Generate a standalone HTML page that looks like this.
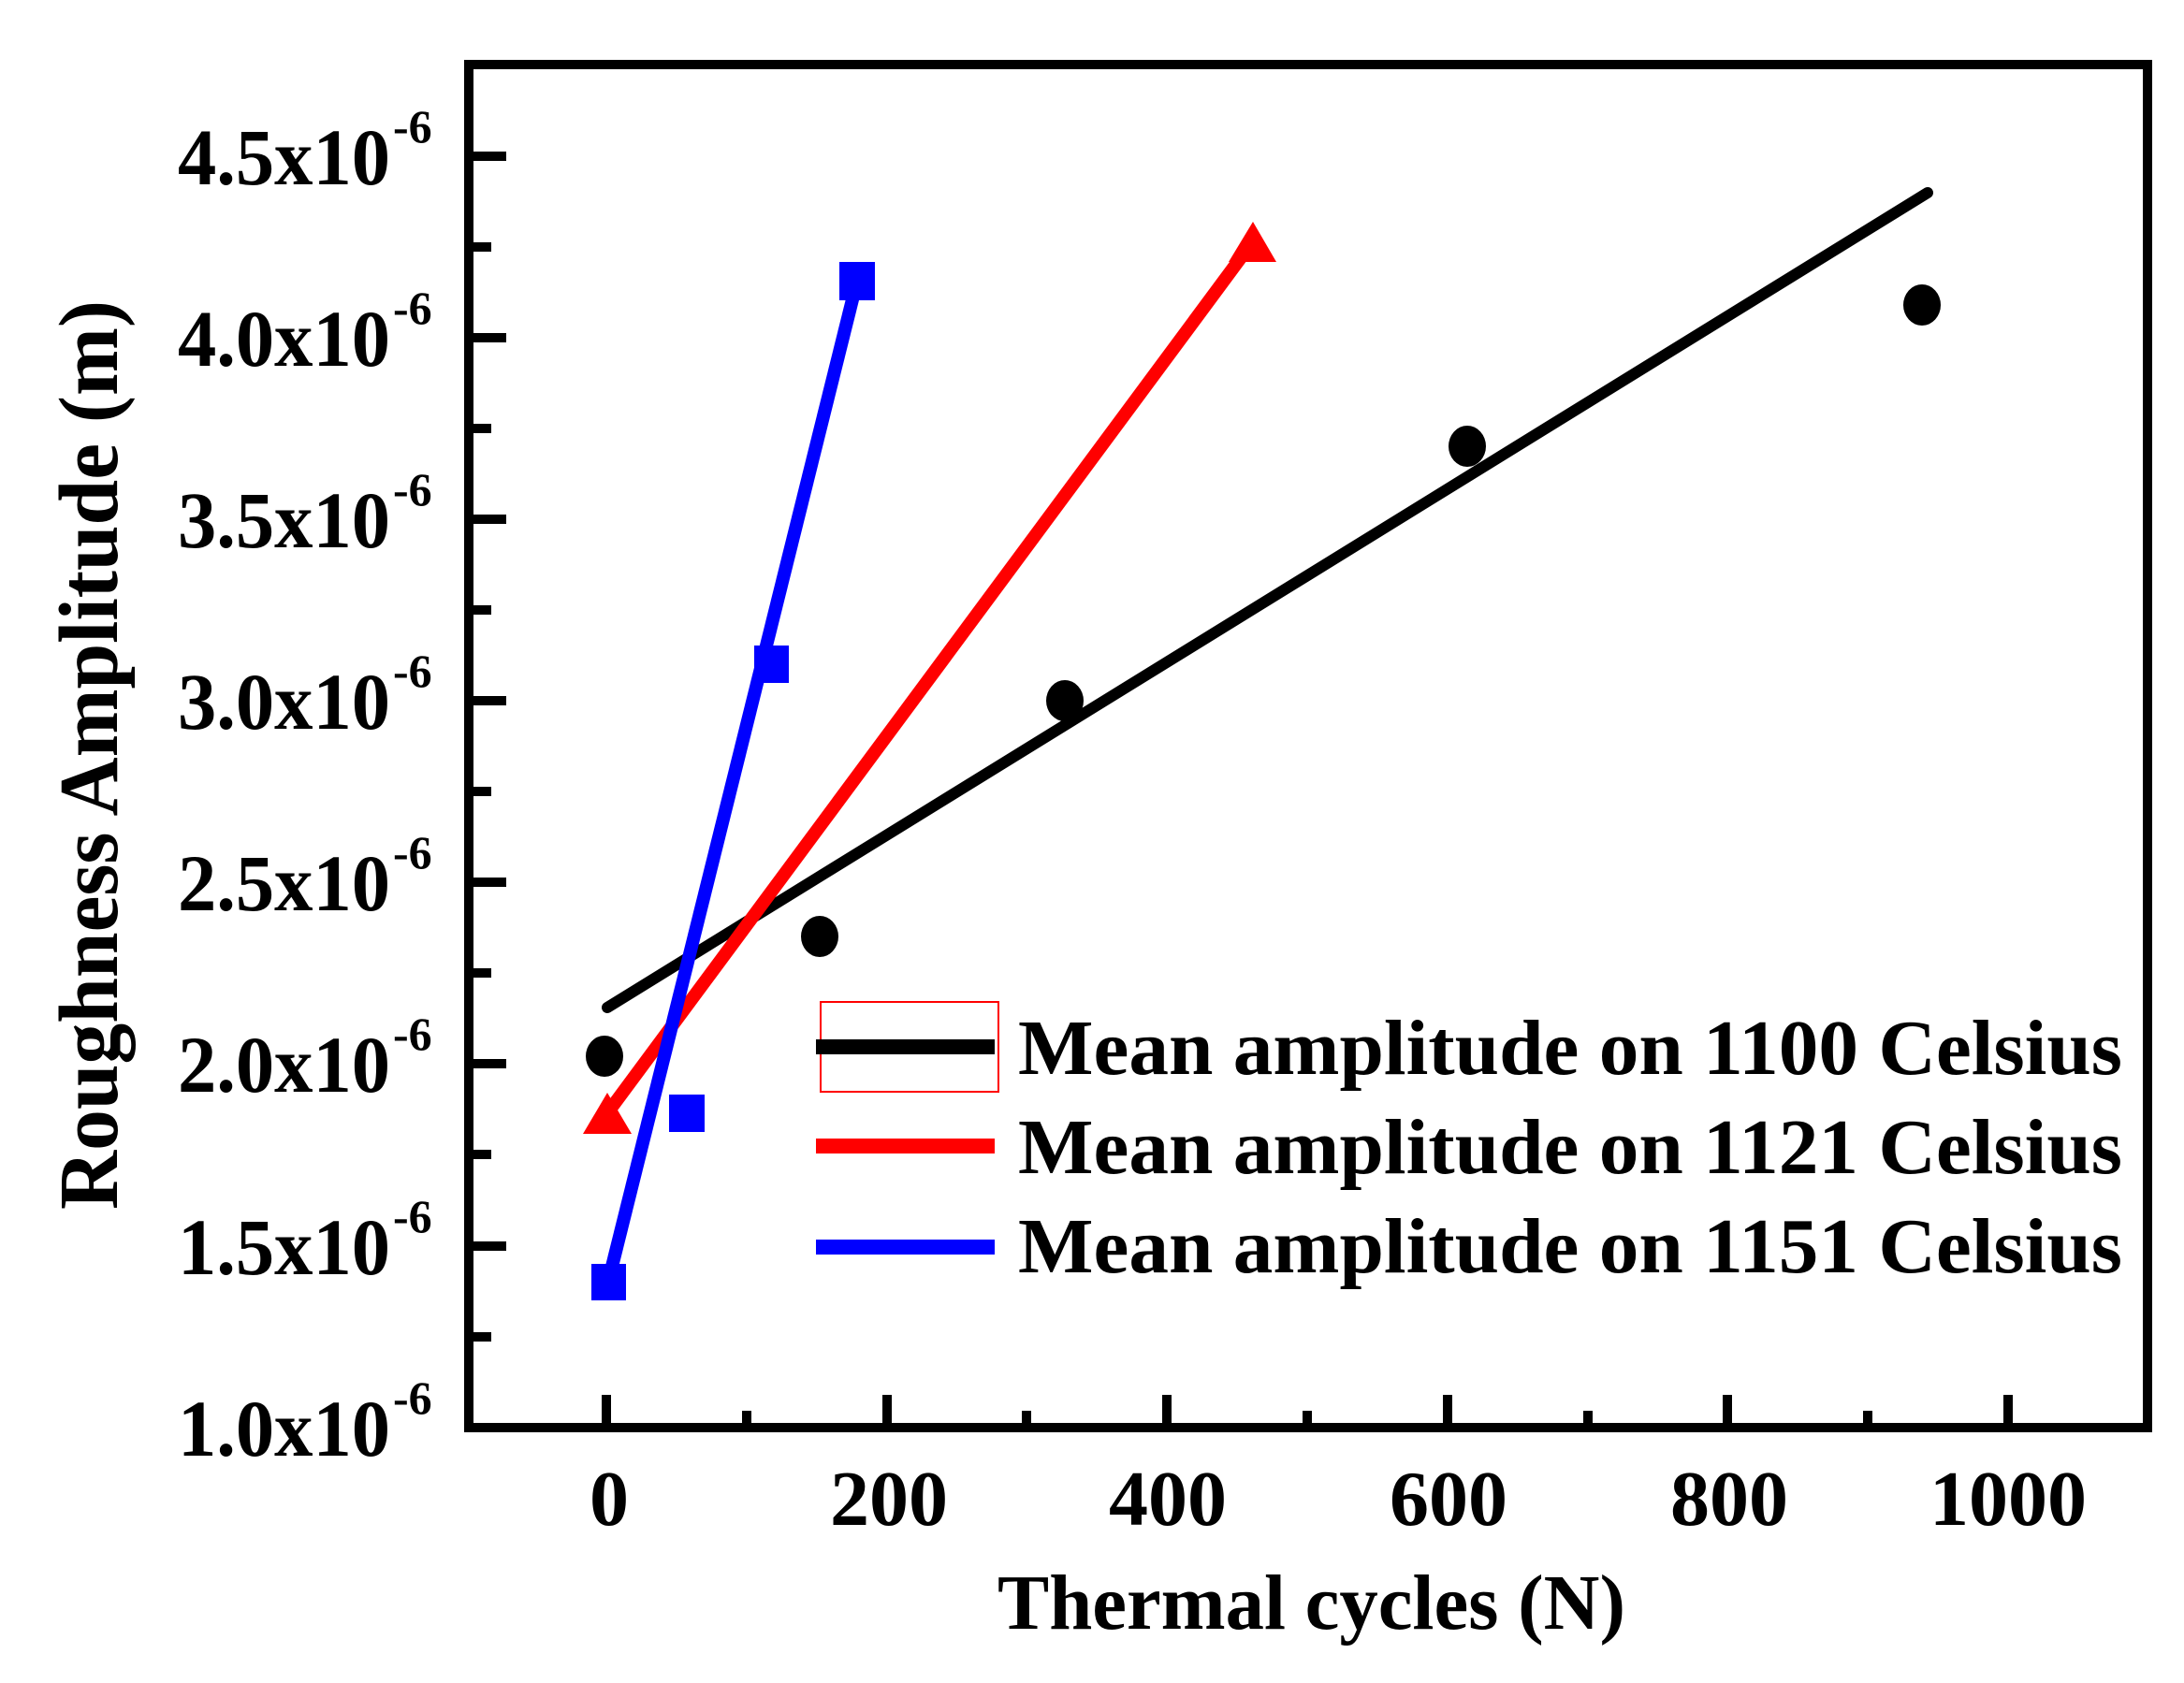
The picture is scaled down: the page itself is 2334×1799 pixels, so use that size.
<!DOCTYPE html>
<html><head><meta charset="utf-8"><style>html,body{margin:0;padding:0;background:#fff}svg{display:block}</style></head>
<body>
<svg width="2334" height="1799" viewBox="0 0 2334 1799" xmlns="http://www.w3.org/2000/svg" font-family="'Liberation Serif', serif" font-weight="bold">
<rect width="2334" height="1799" fill="#fff"/>
<rect x="501" y="69" width="1794" height="1457" fill="none" stroke="#000" stroke-width="10"/>
<g stroke="#000" stroke-width="10">
<line x1="501" y1="167" x2="541" y2="167"/><line x1="501" y1="264" x2="525" y2="264"/>
<line x1="501" y1="361" x2="541" y2="361"/><line x1="501" y1="458" x2="525" y2="458"/>
<line x1="501" y1="555" x2="541" y2="555"/><line x1="501" y1="652" x2="525" y2="652"/>
<line x1="501" y1="749" x2="541" y2="749"/><line x1="501" y1="846" x2="525" y2="846"/>
<line x1="501" y1="943" x2="541" y2="943"/><line x1="501" y1="1040" x2="525" y2="1040"/>
<line x1="501" y1="1137" x2="541" y2="1137"/><line x1="501" y1="1234" x2="525" y2="1234"/>
<line x1="501" y1="1332" x2="541" y2="1332"/><line x1="501" y1="1429" x2="525" y2="1429"/>
</g>
<g stroke="#000" stroke-width="10">
<line x1="648" y1="1526" x2="648" y2="1491"/><line x1="798" y1="1526" x2="798" y2="1508"/>
<line x1="948" y1="1526" x2="948" y2="1491"/><line x1="1097" y1="1526" x2="1097" y2="1508"/>
<line x1="1247" y1="1526" x2="1247" y2="1491"/><line x1="1397" y1="1526" x2="1397" y2="1508"/>
<line x1="1547" y1="1526" x2="1547" y2="1491"/><line x1="1697" y1="1526" x2="1697" y2="1508"/>
<line x1="1846" y1="1526" x2="1846" y2="1491"/><line x1="1996" y1="1526" x2="1996" y2="1508"/>
<line x1="2146" y1="1526" x2="2146" y2="1491"/>
</g>
<g font-size="86">
<text x="190" y="197" textLength="227" lengthAdjust="spacingAndGlyphs">4.5x10</text><text x="190" y="391" textLength="227" lengthAdjust="spacingAndGlyphs">4.0x10</text>
<text x="190" y="585" textLength="227" lengthAdjust="spacingAndGlyphs">3.5x10</text><text x="190" y="779" textLength="227" lengthAdjust="spacingAndGlyphs">3.0x10</text>
<text x="190" y="973" textLength="227" lengthAdjust="spacingAndGlyphs">2.5x10</text><text x="190" y="1167" textLength="227" lengthAdjust="spacingAndGlyphs">2.0x10</text>
<text x="190" y="1362" textLength="227" lengthAdjust="spacingAndGlyphs">1.5x10</text><text x="190" y="1556" textLength="227" lengthAdjust="spacingAndGlyphs">1.0x10</text>
</g>
<g font-size="50" text-anchor="start">
<text x="420" y="152">-6</text><text x="420" y="346">-6</text>
<text x="420" y="540">-6</text><text x="420" y="734">-6</text>
<text x="420" y="928">-6</text><text x="420" y="1122">-6</text>
<text x="420" y="1317">-6</text><text x="420" y="1511">-6</text>
</g>
<g font-size="84" text-anchor="middle">
<text x="651" y="1630">0</text><text x="950" y="1630">200</text><text x="1248" y="1630">400</text>
<text x="1548" y="1630">600</text><text x="1848" y="1630">800</text><text x="2146" y="1630">1000</text>
</g>
<text x="1066" y="1741" font-size="84" textLength="671" lengthAdjust="spacingAndGlyphs">Thermal cycles (N)</text>
<text transform="translate(125,1293) rotate(-90)" font-size="90" textLength="972" lengthAdjust="spacingAndGlyphs">Roughness Amplitude  (m)</text>
<line x1="649" y1="1077" x2="2060" y2="206" stroke="#000" stroke-width="12" stroke-linecap="round"/>
<line x1="649" y1="1190" x2="1339" y2="258" stroke="#f00" stroke-width="14"/>
<line x1="650" y1="1370" x2="916" y2="300" stroke="#00f" stroke-width="14"/>
<g fill="#000">
<ellipse cx="646" cy="1129" rx="20" ry="22"/><ellipse cx="876" cy="1001" rx="20" ry="22"/>
<ellipse cx="1138" cy="749" rx="20" ry="22"/><ellipse cx="1568" cy="477" rx="20" ry="22"/>
<ellipse cx="2054" cy="326" rx="20" ry="22"/>
</g>
<g fill="#f00">
<polygon points="649,1168 675,1212 623,1212"/><polygon points="1339,237 1364,280 1313,280"/>
</g>
<g fill="#00f">
<rect x="632" y="1351" width="37" height="39"/><rect x="715" y="1170" width="38" height="40"/>
<rect x="806" y="690" width="37" height="40"/><rect x="897" y="280" width="38" height="41"/>
</g>
<rect x="877" y="1071" width="190" height="96" fill="none" stroke="#f00" stroke-width="2"/>
<g stroke-width="16" stroke-linecap="butt">
<line x1="872" y1="1119" x2="1063" y2="1119" stroke="#000"/>
<line x1="872" y1="1225" x2="1063" y2="1225" stroke="#f00"/>
<line x1="872" y1="1333" x2="1063" y2="1333" stroke="#00f"/>
</g>
<g font-size="84">
<text x="1088" y="1148" textLength="1180" lengthAdjust="spacingAndGlyphs">Mean amplitude on 1100 Celsius</text>
<text x="1088" y="1254" textLength="1180" lengthAdjust="spacingAndGlyphs">Mean amplitude on 1121 Celsius</text>
<text x="1088" y="1360" textLength="1180" lengthAdjust="spacingAndGlyphs">Mean amplitude on 1151 Celsius</text>
</g>
</svg>
</body></html>
